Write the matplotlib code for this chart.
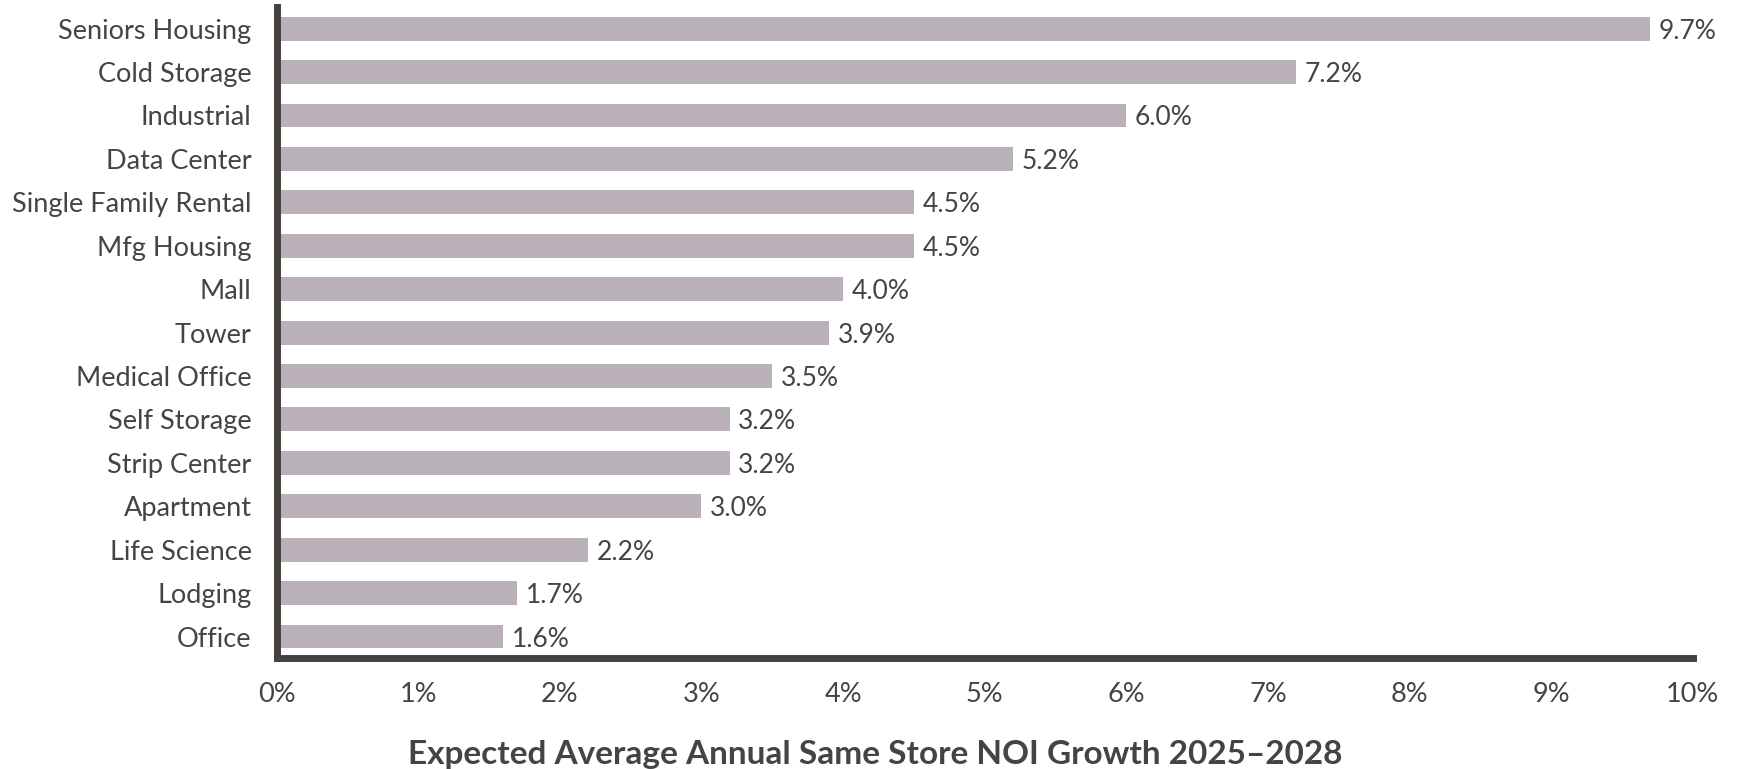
import matplotlib
matplotlib.use('Agg')
import matplotlib.pyplot as plt

# Sectores y crecimiento NOI esperado (%)
sectores = ['Seniors Housing', 'Cold Storage', 'Industrial', 'Data Center',
            'Single Family Rental', 'Mfg Housing', 'Mall', 'Tower',
            'Medical Office', 'Self Storage', 'Strip Center', 'Apartment',
            'Life Science', 'Lodging', 'Office']
crecimiento = [9.7, 7.2, 6.0, 5.2, 4.5, 4.5, 4.0, 3.9, 3.5, 3.2, 3.2, 3.0, 2.2, 1.7, 1.6]
ticks_x = [0, 1, 2, 3, 4, 5, 6, 7, 8, 9, 10]

color_barra = '#bab0b9'
color_eje = '#45423d'
color_texto = '#444444'

plt.rcParams['font.family'] = ['Lato', 'DejaVu Sans']

fig = plt.figure(figsize=(17.39, 7.69), dpi=100)
ax = fig.add_axes([0.159, 0.144, 0.8145, 0.847])

posiciones = list(range(len(sectores)))
ax.barh(posiciones, crecimiento, height=0.55, color=color_barra, zorder=2)

for y, v in zip(posiciones, crecimiento):
    ax.text(v + 0.06, y, f'{v:.1f}%', va='center_baseline', ha='left',
            fontsize=19, color=color_texto)

ax.set_ylim(len(sectores) - 0.5, -0.5)
ax.set_xlim(0, 10)
ax.set_yticks(posiciones)
ax.set_yticklabels(sectores, fontsize=19.5, color=color_texto)
ax.set_xticks(ticks_x)
ax.set_xticklabels([f'{t}%' for t in ticks_x], fontsize=19.5, color=color_texto)
ax.tick_params(axis='both', length=0)
ax.tick_params(axis='y', pad=18)
ax.tick_params(axis='x', pad=17)

for lado in ['top', 'right']:
    ax.spines[lado].set_visible(False)
for lado in ['left', 'bottom']:
    ax.spines[lado].set_linewidth(5)
    ax.spines[lado].set_color(color_eje)
    ax.spines[lado].set_capstyle('projecting')

# Título del eje x, centrado bajo el gráfico
fig.text(0.503, 0.019, 'Expected Average Annual Same Store NOI Growth 2025\u20132028',
         ha='center', va='center', fontsize=24, fontweight='bold', color=color_texto)

plt.savefig('out.png', dpi=100)
